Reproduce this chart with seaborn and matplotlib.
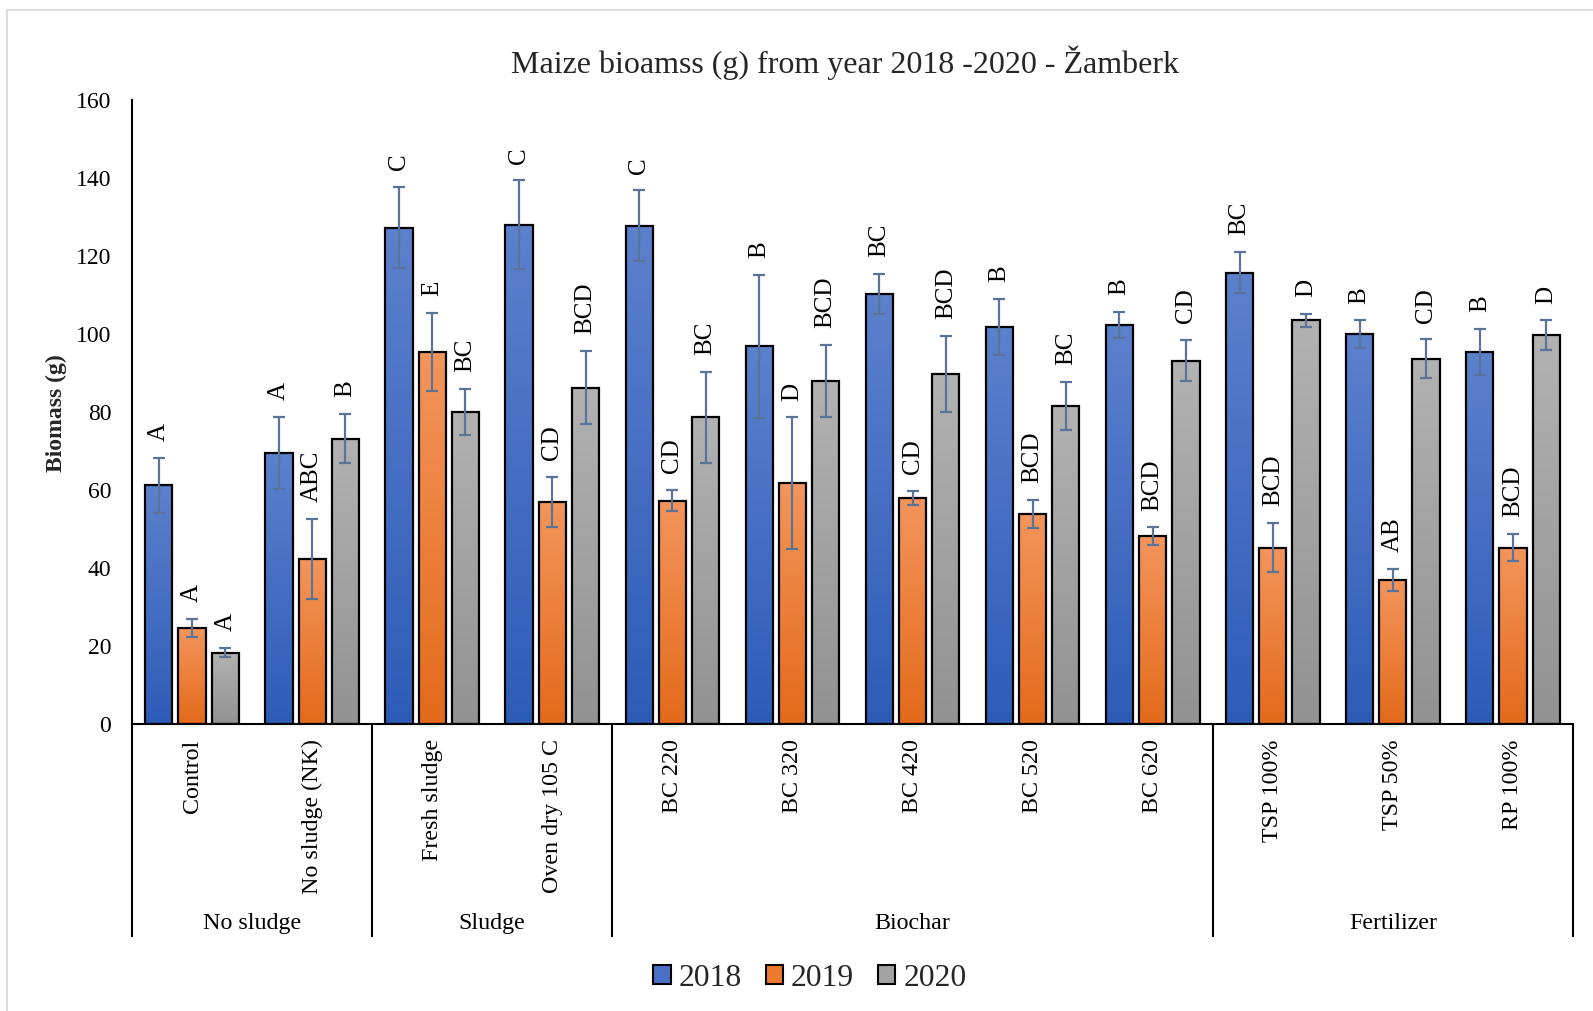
import numpy as np
import pandas as pd
import matplotlib
matplotlib.use("Agg")
import matplotlib.pyplot as plt
import matplotlib.transforms as mtransforms
from matplotlib.patches import Patch
from matplotlib.lines import Line2D
from matplotlib.colors import to_rgb
import seaborn as sns

# ---------------- data ----------------
categories = ["Control", "No sludge (NK)", "Fresh sludge", "Oven dry 105 C",
              "BC 220", "BC 320", "BC 420", "BC 520", "BC 620",
              "TSP 100%", "TSP 50%", "RP 100%"]
groups = ["No sludge", "Sludge", "Biochar", "Fertilizer"]
group_sizes = [2, 2, 5, 3]
years = ["2018", "2019", "2020"]

mean_2018 = [61.2, 69.5, 127.3, 128.0, 127.8, 96.8, 110.3, 101.8, 102.3, 115.7, 99.9, 95.4]
sd_2018 = [7.0, 9.3, 10.4, 11.4, 9.0, 18.4, 5.2, 7.2, 3.3, 5.3, 3.6, 5.9]
mean_2019 = [24.6, 42.3, 95.5, 56.9, 57.3, 61.7, 58.0, 53.8, 48.1, 45.2, 36.9, 45.2]
sd_2019 = [2.4, 10.2, 10.0, 6.5, 2.7, 16.9, 1.8, 3.6, 2.3, 6.3, 2.9, 3.5]
mean_2020 = [18.3, 73.2, 80.0, 86.2, 78.6, 88.0, 89.8, 81.5, 93.2, 103.5, 93.7, 99.7]
sd_2020 = [1.2, 6.3, 6.0, 9.4, 11.7, 9.3, 9.7, 6.2, 5.3, 1.6, 4.9, 3.8]

letters_2018 = ["A", "A", "C", "C", "C", "B", "BC", "B", "B", "BC", "B", "B"]
letters_2019 = ["A", "ABC", "E", "CD", "CD", "D", "CD", "BCD", "BCD", "BCD", "AB", "BCD"]
letters_2020 = ["A", "B", "BC", "BCD", "BC", "BCD", "BCD", "BC", "CD", "D", "CD", "D"]

title = "Maize bioamss (g) from year 2018 -2020 - Žamberk"
ylabel = "Biomass (g)"

# ---------------- style ----------------
sns.set_theme(style="white")
plt.rcParams["font.family"] = ["Liberation Serif", "DejaVu Serif"]

mid_colors = ["#4A70C6", "#EE7A2E", "#A3A3A3"]
top_colors = ["#5C81CD", "#F4955C", "#B2B2B2"]
bot_colors = ["#2D5CB7", "#E36A1A", "#929292"]
err_color = "#5A7499"

W, H = 1593, 1011
fig = plt.figure(figsize=(W / 100, H / 100), dpi=100)
ax = fig.add_axes([132 / W, 1 - 724 / H, (1573 - 132) / W, 624 / H])

df = pd.DataFrame({
    "Treatment": categories * 3,
    "Year": np.repeat(years, len(categories)),
    "Biomass": mean_2018 + mean_2019 + mean_2020,
})

sns.barplot(data=df, x="Treatment", y="Biomass", hue="Year",
            order=categories, hue_order=years, palette=mid_colors,
            width=0.83, gap=0.18, edgecolor="black", linewidth=1.6,
            errorbar=None, legend=False, ax=ax, zorder=3)

sds = [sd_2018, sd_2019, sd_2020]
letters = [letters_2018, letters_2019, letters_2020]
bar_containers = list(ax.containers)

for i, cont in enumerate(bar_containers):
    top = np.array(to_rgb(top_colors[i]))
    bot = np.array(to_rgb(bot_colors[i]))
    grad = np.linspace(0, 1, 128)[:, None, None] * (bot - top) + top
    grad = np.repeat(grad, 2, axis=1)
    for j, rect in enumerate(cont):
        x0 = rect.get_x()
        w = rect.get_width()
        h = rect.get_height()
        rect.set_facecolor("none")
        ax.imshow(grad, extent=(x0, x0 + w, 0, h), origin="upper",
                  aspect="auto", interpolation="bilinear", zorder=2)
        xc = x0 + w / 2
        sd = sds[i][j]
        ax.errorbar(xc, h, yerr=sd, fmt="none", ecolor=err_color,
                    elinewidth=1.6, capsize=4.5, capthick=1.6, zorder=4)
        ax.text(xc, h + sd + 4.3, letters[i][j], rotation=90,
                ha="center", va="bottom", fontsize=18, color="black", zorder=5)

ax.set_xlim(-0.5, len(categories) - 0.5)
ax.set_ylim(0, 160)
ax.set_yticks(range(0, 161, 20))
ax.set_xticks(range(len(categories)))
ax.set_xticklabels(categories, rotation=90, fontsize=17.3)
ax.tick_params(axis="y", length=0, pad=15, labelsize=17, colors="black")
ax.tick_params(axis="x", length=0, pad=11, colors="black")
ax.set_xlabel("")
ax.set_ylabel("")
for s in ["top", "right"]:
    ax.spines[s].set_visible(False)
for s in ["left", "bottom"]:
    ax.spines[s].set_color("black")
    ax.spines[s].set_linewidth(1.5)
ax.set_facecolor("white")

# group separators and labels
trans = mtransforms.blended_transform_factory(ax.transData, ax.transAxes)
bounds = np.concatenate([[0], np.cumsum(group_sizes)])
for b in bounds:
    ax.plot([b - 0.5, b - 0.5], [0, -0.342], transform=trans, color="black",
            lw=1.5, clip_on=False, solid_capstyle="butt")
for g, a, b in zip(groups, bounds[:-1], bounds[1:]):
    ax.text((a + b - 1) / 2, -0.319, g, transform=trans, ha="center",
            va="center", fontsize=17.3, color="black")

# title and y label
fig.text(845 / W, 1 - 63 / H, title, ha="center", va="center", fontsize=23)
fig.text(56 / W, 1 - 413 / H, ylabel, rotation=90, ha="center", va="center",
         fontsize=17, fontweight="bold")

# legend
handles = [Patch(facecolor=c, edgecolor="black", linewidth=1.5) for c in mid_colors]
fig.legend(handles, years, loc="center", bbox_to_anchor=(810 / W, 1 - 978 / H),
           ncol=3, frameon=False, fontsize=22.8, handlelength=0.55,
           handleheight=0.55, handletextpad=0.25, columnspacing=0.75,
           borderpad=0)

# chart-area border (light grey)
bc = "#D9DCE2"
fig.add_artist(Line2D([7 / W, 7 / W], [0, 1 - 10 / H], color=bc, lw=1.5))
fig.add_artist(Line2D([7 / W, 1], [1 - 10 / H, 1 - 10 / H], color=bc, lw=1.5))

fig.savefig("out.png", dpi=100, facecolor="white")
